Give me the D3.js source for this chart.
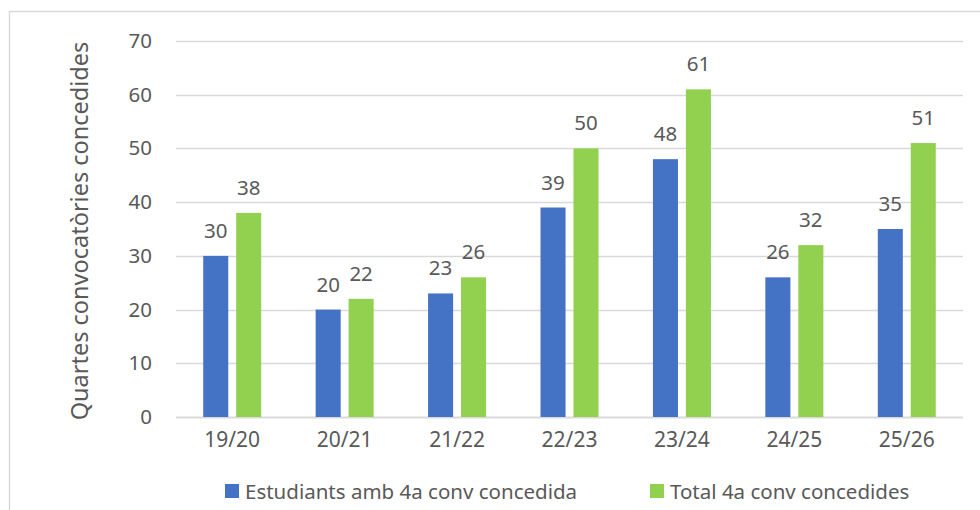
<!DOCTYPE html>
<html>
<head>
<meta charset="utf-8">
<script src="https://cdn.jsdelivr.net/npm/d3@7"></script>
<style>
  body { margin: 0; background: #fff; }
  text { font-family: "Noto Sans", "Open Sans", sans-serif; fill: #595959; }
</style>
</head>
<body>
<script>
// dades
var cursos = ["19/20", "20/21", "21/22", "22/23", "23/24", "24/25", "25/26"]
var estudiants = [30, 20, 23, 39, 48, 26, 35]
var total = [38, 22, 26, 50, 61, 32, 51]
var series = ["Estudiants amb 4a conv concedida", "Total 4a conv concedides"]
var colors = ["#4472C4", "#92D050"]
var yTicks = [0, 10, 20, 30, 40, 50, 60, 70]

var width = 980
var height = 510
var margin = {top: 41, right: 17, bottom: 93, left: 176}
var innerW = width - margin.left - margin.right
var innerH = height - margin.top - margin.bottom

var svg = d3.select("body").append("svg")
    .attr("width", width)
    .attr("height", height)

// vora del gràfic
svg.append("rect")
    .attr("x", 9.5).attr("y", 11.5)
    .attr("width", 1000).attr("height", 600)
    .attr("fill", "none")
    .attr("stroke", "#d9d9d9")
    .attr("stroke-width", 1.5)

var g = svg.append("g")
    .attr("transform", `translate(${margin.left},${margin.top})`)

var x0 = d3.scaleBand().domain(cursos).range([0, innerW])
var x1 = d3.scaleBand().domain([0, 1]).range([x0.bandwidth() / 2 - 29, x0.bandwidth() / 2 + 29]).paddingInner(0.24)
var y = d3.scaleLinear().domain([0, 70]).range([innerH, 0])

// línies de la graella
g.selectAll(".grid")
  .data(yTicks)
  .enter().append("line")
  .attr("x1", 0).attr("x2", innerW)
  .attr("y1", d => Math.round(y(d)) + 0.5)
  .attr("y2", d => Math.round(y(d)) + 0.5)
  .attr("stroke", "#d9d9d9")
  .attr("stroke-width", d => d === 0 ? 2 : 1.3)

// eix y
var yAxis = g.append("g")
  .call(d3.axisLeft(y).tickValues(yTicks).tickSize(0).tickPadding(24))
yAxis.select(".domain").remove()
yAxis.selectAll("text")
  .style("font-size", "20.5px")
  .attr("fill", "#595959")

// eix x
var xAxis = g.append("g")
  .attr("transform", `translate(0,${innerH})`)
  .call(d3.axisBottom(x0).tickSize(0).tickPadding(15))
xAxis.select(".domain").remove()
xAxis.selectAll("text")
  .style("font-size", "21px")
  .attr("fill", "#595959")

var data = cursos.map((c, i) => ({curs: c, vals: [estudiants[i], total[i]]}))

var grup = g.selectAll(".curs")
  .data(data)
  .enter().append("g")
  .attr("class", "curs")
  .attr("transform", d => `translate(${x0(d.curs)},0)`)

grup.selectAll("rect")
  .data(d => d.vals)
  .enter().append("rect")
  .attr("x", (d, i) => x1(i))
  .attr("y", d => y(d))
  .attr("width", x1.bandwidth())
  .attr("height", d => innerH - y(d))
  .attr("fill", (d, i) => colors[i])

grup.selectAll(".label")
  .data(d => d.vals)
  .enter().append("text")
  .attr("class", "label")
  .attr("x", (d, i) => x1(i) + x1.bandwidth() / 2)
  .attr("y", d => y(d) - 18)
  .attr("text-anchor", "middle")
  .style("font-size", "20.5px")
  .text(d => d)

// títol eix y
svg.append("text")
  .attr("transform", `translate(88,${margin.top + innerH / 2 + 2}) rotate(-90)`)
  .attr("text-anchor", "middle")
  .style("font-size", "23.5px")
  .text("Quartes convocatòries concedides")

// llegenda
var legX = [225, 650]
var legend = svg.selectAll(".legend")
  .data(series)
  .enter().append("g")
  .attr("class", "legend")
  .attr("transform", (d, i) => `translate(${legX[i]},484)`)

legend.append("rect")
  .attr("width", 14).attr("height", 14)
  .attr("fill", (d, i) => colors[i])

legend.append("text")
  .attr("x", 20)
  .attr("y", 14.5)
  .style("font-size", "20.5px")
  .text(d => d)
</script>
</body>
</html>
